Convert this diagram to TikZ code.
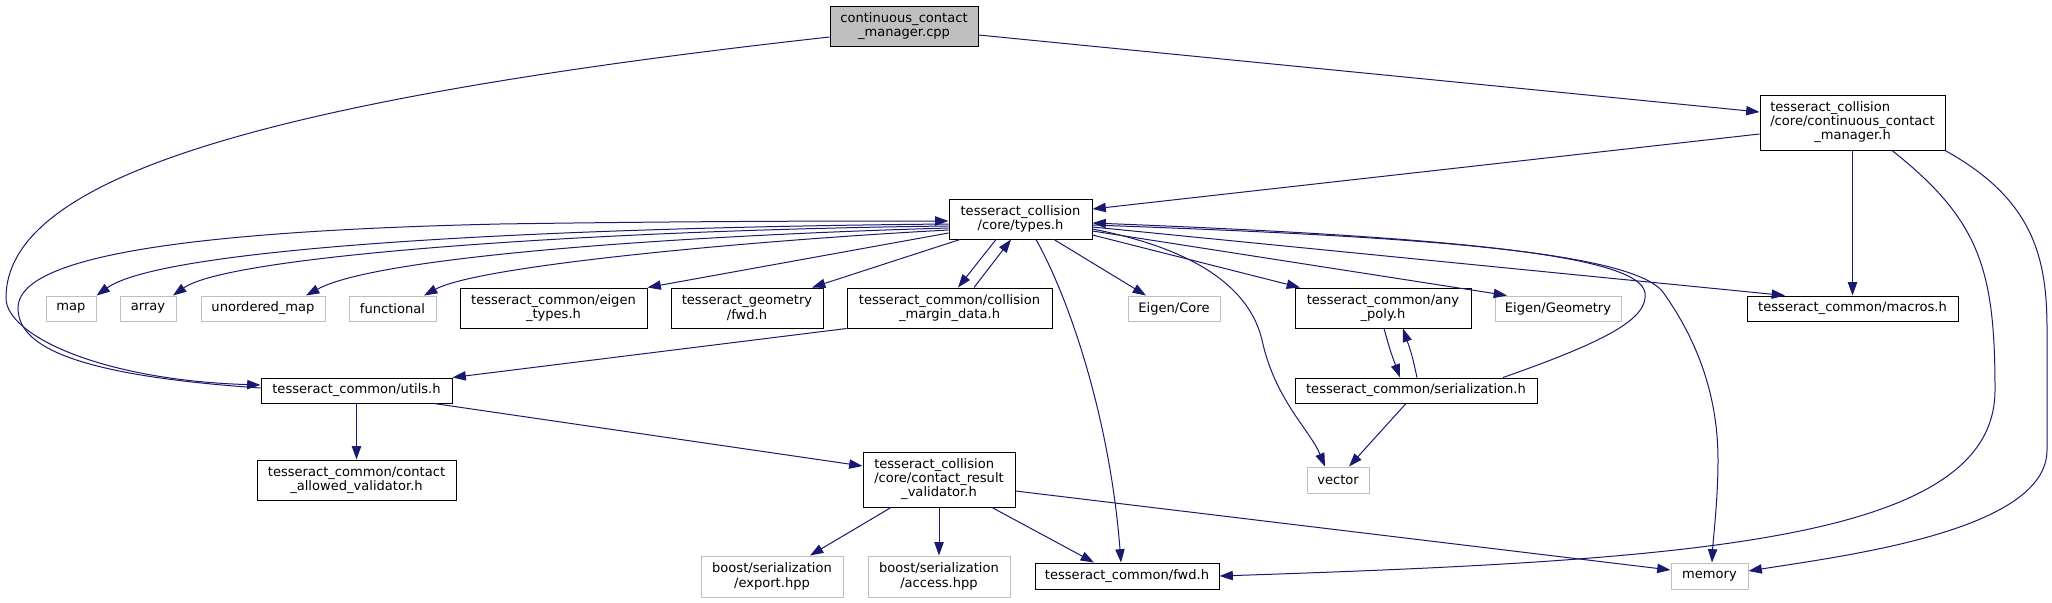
\documentclass[tikz,border=0pt]{standalone}
\usepackage{fontspec}
\setmainfont{DejaVu Sans}
\usetikzlibrary{arrows.meta}
\definecolor{edgeblue}{HTML}{191970}
\definecolor{sysgray}{HTML}{BFBFBF}
\begin{document}
\begin{tikzpicture}[x=0.75pt,y=-0.75pt,
  every node/.style={font=\fontsize{9.8}{10.7}\selectfont, inner sep=0pt, align=center, text=black},
  nb/.style n args={2}{minimum width=#1*0.75pt, minimum height=#2*0.75pt},
  hdr/.style={draw=black, fill=white, line width=0.75pt},
  sys/.style={draw=sysgray, fill=white, line width=0.75pt},
  src/.style={draw=black, fill=sysgray, line width=0.75pt},
  dep/.style={draw=edgeblue, line width=0.75pt, -{Triangle[length=10pt,width=7pt]}}
]
\useasboundingbox (0,0) rectangle (2052,603);
\fill[white] (0,0) rectangle (2052,603);

% nodes
\node[src, nb={148}{40}] (cpp) at (904,26) {continuous\_contact\\\_manager.cpp};
\node[hdr, nb={185}{55}] (ccm) at (1852.5,122.5) {\begin{tabular}{@{}l@{}}tesseract\_collision\\/core/continuous\_contact\\\multicolumn{1}{@{}c@{}}{\_manager.h}\end{tabular}};
\node[hdr, nb={143}{40}] (types) at (1020.5,219) {tesseract\_collision\\/core/types.h};
\node[sys, nb={50}{25}] (map) at (71,308.5) {map};
\node[sys, nb={56}{25}] (array) at (148,308.5) {array};
\node[sys, nb={124}{25}] (umap) at (263,308.5) {unordered\_map};
\node[sys, nb={87}{25}] (func) at (392.5,308.5) {functional};
\node[hdr, nb={187}{40}] (etypes) at (553.5,308) {tesseract\_common/eigen\\\_types.h};
\node[hdr, nb={152}{40}] (gfwd) at (747,308) {tesseract\_geometry\\/fwd.h};
\node[hdr, nb={205}{40}] (margin) at (949.5,308) {tesseract\_common/collision\\\_margin\_data.h};
\node[sys, nb={92}{25}] (ecore) at (1174,308.5) {Eigen/Core};
\node[hdr, nb={176}{40}] (apoly) at (1383,308) {tesseract\_common/any\\\_poly.h};
\node[sys, nb={126}{25}] (egeom) at (1558,308.5) {Eigen/Geometry};
\node[hdr, nb={211}{25}] (macros) at (1852.5,308.5) {tesseract\_common/macros.h};
\node[hdr, nb={191}{25}] (utils) at (356.5,390.5) {tesseract\_common/utils.h};
\node[hdr, nb={242}{25}] (serial) at (1416,390.5) {tesseract\_common/serialization.h};
\node[hdr, nb={199}{40}] (allowed) at (356.5,480) {tesseract\_common/contact\\\_allowed\_validator.h};
\node[hdr, nb={152}{55}] (result) at (939,479.5) {\begin{tabular}{@{}l@{}}tesseract\_collision\\/core/contact\_result\\\multicolumn{1}{@{}c@{}}{\_validator.h}\end{tabular}};
\node[sys, nb={62}{26}] (vector) at (1338,480) {vector};
\node[sys, nb={142}{41}] (export) at (772,576.5) {boost/serialization\\/export.hpp};
\node[sys, nb={142}{41}] (access) at (939,576.5) {boost/serialization\\/access.hpp};
\node[hdr, nb={184}{26}] (fwd) at (1127,576) {tesseract\_common/fwd.h};
\node[sys, nb={77}{26}] (memory) at (1709.5,576) {memory};

% edges
\draw[dep] (cpp.east |- 0,35) -- (ccm.west |- 0,112);
\draw[dep] (cpp.west |- 0,37) .. controls (253,101) and (6,180) .. (6,298) .. controls (6,335) and (100,380) .. (utils.west |- 0,385);
\draw[dep] (utils.west |- 0,388) .. controls (70,375) and (18,345) .. (18,308) .. controls (18,262) and (150,232) .. (500,224) .. controls (700,221) and (850,221) .. (types.west |- 0,221);

\draw[dep] (types.west |- 0,224) .. controls (500,228) and (160,250) .. (map.north east);
\draw[dep] (types.west |- 0,226) .. controls (600,230) and (230,255) .. (173,0 |- array.north);
\draw[dep] (types.west |- 0,228) .. controls (700,235) and (380,255) .. (306,0 |- umap.north);
\draw[dep] (types.west |- 0,230) .. controls (760,240) and (480,265) .. (424,0 |- func.north);
\draw[dep] (types.west |- 0,233) -- (etypes.north east);
\draw[dep] (960,0 |- types.south) -- (812,0 |- gfwd.north);
\draw[dep] (996,0 |- types.south) -- (958,0 |- margin.north);
\draw[dep] (974,0 |- margin.north) -- (1011,0 |- types.south);
\draw[dep] (1036,0 |- types.south) .. controls (1070,300) and (1110,420) .. (1121,0 |- fwd.north);
\draw[dep] (1054,0 |- types.south) -- (1146,0 |- ecore.north);
\draw[dep] (types.east |- 0,229) .. controls (1200,250) and (1250,290) .. (1262,340) .. controls (1275,400) and (1310,430) .. (1325,0 |- vector.north);
\draw[dep] (types.east |- 0,235) -- (1300,0 |- apoly.north);
\draw[dep] (types.east |- 0,231) -- (1507,0 |- egeom.north);
\draw[dep] (types.east |- 0,227) -- (1785,0 |- macros.north);
\draw[dep] (types.east |- 0,225) .. controls (1400,236) and (1640,250) .. (1665,295) .. controls (1700,345) and (1718,400) .. (1718,460) .. controls (1718,500) and (1713,540) .. (1712,0 |- memory.north);
\draw[dep] (1503,0 |- serial.north) .. controls (1610,340) and (1648,318) .. (1645,293) .. controls (1640,255) and (1450,237) .. (types.east |- 0,223);

\draw[dep] (ccm.west |- 0,134) -- (types.east |- 0,209);
\draw[dep] (ccm.south) -- (macros.north);
\draw[dep] (1892,0 |- ccm.south) .. controls (1980,220) and (1995,270) .. (1995,390) .. controls (1995,540) and (1700,560) .. (fwd.east |- 0,576);
\draw[dep] (1945,0 |- ccm.south) .. controls (2035,200) and (2047,260) .. (2047,330) -- (2047,450) .. controls (2047,530) and (1850,555) .. (memory.east |- 0,571);

\draw[dep] (1384,0 |- apoly.south) .. controls (1390,350) .. (1400,0 |- serial.north);
\draw[dep] (1417,0 |- serial.north) .. controls (1412,355) .. (1403,0 |- apoly.south);
\draw[dep] (1406,0 |- serial.south) -- (1349,0 |- vector.north);

\draw[dep] (utils.south) -- (allowed.north);
\draw[dep] (434,0 |- utils.south) -- (result.west |- 0,466);
\draw[dep] (margin.south west) -- (utils.north east);

\draw[dep] (891,0 |- result.south) -- (810,0 |- export.north);
\draw[dep] (result.south) -- (access.north);
\draw[dep] (992,0 |- result.south) -- (1094,0 |- fwd.north);
\draw[dep] (result.east |- 0,491) -- (memory.west |- 0,570);
\end{tikzpicture}
\end{document}
